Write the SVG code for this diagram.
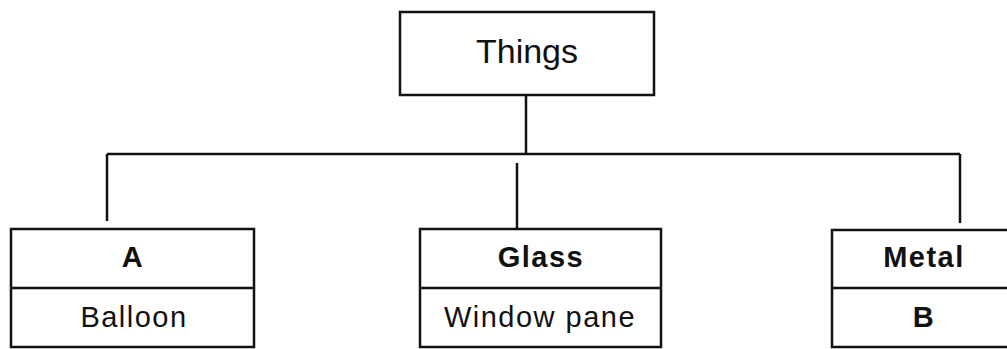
<svg xmlns="http://www.w3.org/2000/svg" width="1007" height="349" viewBox="0 0 1007 349">
<style>
.box{fill:#fff;stroke:#111;stroke-width:2.5}
.ln{stroke:#111;stroke-width:2.5;fill:none}
.t{font-family:"Liberation Sans",Arial,sans-serif;fill:#111;text-anchor:middle}
.big{font-size:34px}
.lbl{font-size:29px;letter-spacing:1.5px}
.b{font-weight:bold}
</style>
<rect width="1007" height="349" fill="#fff"/>
<g id="connectors">
<line class="ln" x1="526" y1="95" x2="526" y2="154"/>
<line class="ln" x1="107" y1="154" x2="960" y2="154"/>
<line class="ln" x1="107" y1="154" x2="107" y2="221"/>
<line class="ln" x1="517" y1="163" x2="517" y2="229"/>
<line class="ln" x1="960" y1="154" x2="960" y2="223"/>
</g>
<g id="things">
<rect class="box" x="400" y="12" width="254" height="83"/>
<text class="t big" x="527" y="63">Things</text>
</g>
<g id="nodeA">
<rect class="box" x="11" y="229" width="243" height="118"/>
<line class="ln" x1="11" y1="288" x2="254" y2="288"/>
<text class="t lbl b" x="133" y="267">A</text>
<text class="t lbl" x="134" y="327">Balloon</text>
</g>
<g id="glass">
<rect class="box" x="420" y="229" width="241" height="118"/>
<line class="ln" x1="420" y1="288" x2="661" y2="288"/>
<text class="t lbl b" x="541" y="267">Glass</text>
<text class="t lbl" x="540" y="327">Window pane</text>
</g>
<g id="metal">
<rect class="box" x="832" y="230" width="182" height="117"/>
<line class="ln" x1="832" y1="288" x2="1014" y2="288"/>
<text class="t lbl b" x="924" y="267">Metal</text>
<text class="t lbl b" x="924" y="327">B</text>
</g>
</svg>
